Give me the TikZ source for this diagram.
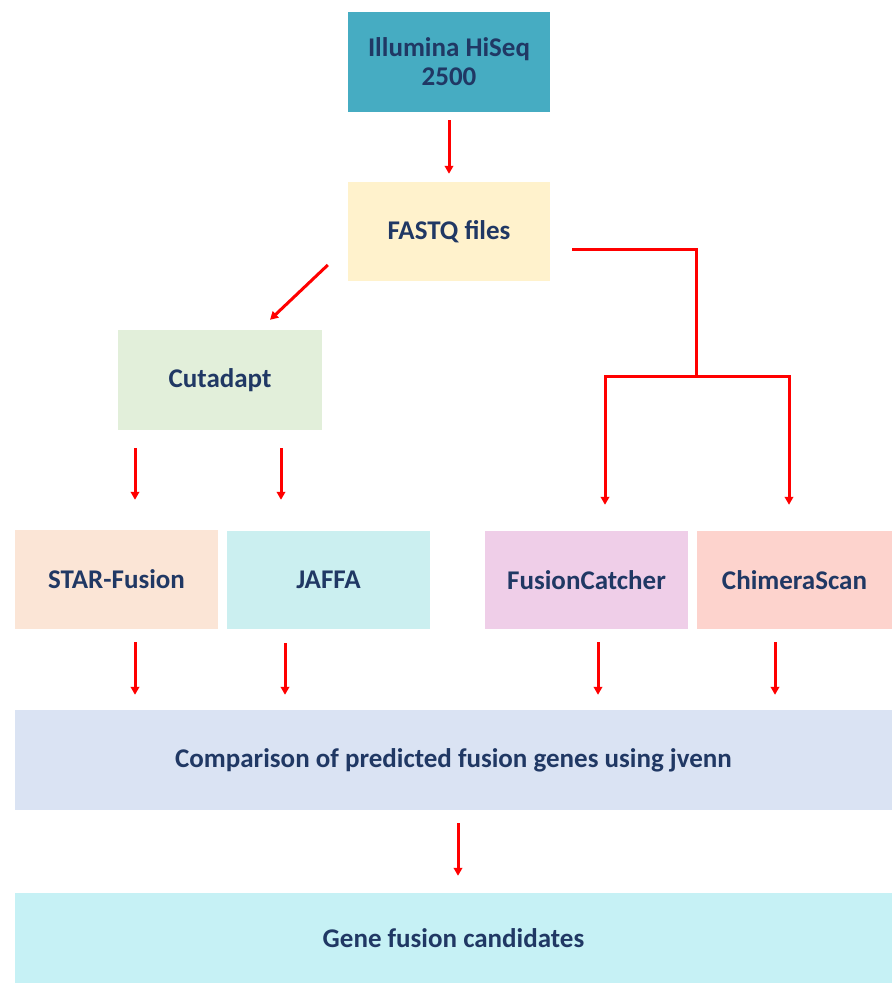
\documentclass[tikz,border=0pt]{standalone}
\usepackage{fontspec}
\setmainfont{Carlito}
\usepackage{xcolor}
\usepackage{tikz}
\usetikzlibrary{arrows.meta, positioning, calc}
\definecolor{textnavy}{HTML}{203864}
\definecolor{illteal}{RGB}{70,172,194}
\definecolor{fastqyellow}{HTML}{FFF2CC}
\definecolor{cutgreen}{HTML}{E2EFDA}
\definecolor{starpeach}{HTML}{FBE5D6}
\definecolor{jaffacyan}{HTML}{CBEFF0}
\definecolor{fcpink}{HTML}{EFCEE8}
\definecolor{cssalmon}{HTML}{FDD3CD}
\definecolor{compblue}{HTML}{DAE3F3}
\definecolor{genecyan}{HTML}{C6F1F5}
\definecolor{arrowred}{HTML}{FF0000}

\begin{document}
\begin{tikzpicture}[x=1pt, y=-1pt,
    box/.style={rectangle, draw=none, inner sep=0pt, align=center,
        text=textnavy, font=\fontsize{27}{29}\selectfont\bfseries},
    line/.style={draw=arrowred, line width=3pt},
    arr/.style={line, -{Triangle[width=8.5pt,length=8pt]}}]
    \useasboundingbox (0,0) rectangle (892,983);

    % Sequencing and preprocessing
    \node[box, fill=illteal, minimum width=202pt, minimum height=100pt] (ill) at (449,62) {Illumina HiSeq\\2500};
    \node[box, fill=fastqyellow, minimum width=202pt, minimum height=99pt] (fastq) at (449,231.5) {FASTQ files};
    \node[box, fill=cutgreen, minimum width=204pt, minimum height=100pt] (cut) at (220,380) {Cutadapt};

    % Fusion callers
    \node[box, fill=starpeach, minimum width=203pt, minimum height=99pt] (star) at (116.5,579.5) {STAR-Fusion};
    \node[box, fill=jaffacyan, minimum width=203pt, minimum height=98pt] (jaffa) at (328.5,580) {JAFFA};
    \node[box, fill=fcpink, minimum width=203pt, minimum height=98pt] (fc) at (586.5,580) {FusionCatcher};
    \node[box, fill=cssalmon, minimum width=195pt, minimum height=98pt] (cs) at (794.5,580) {ChimeraScan};

    % Comparison and result
    \node[box, fill=compblue, minimum width=877pt, minimum height=100pt] (comp) at (453.5,760) {Comparison of predicted fusion genes using jvenn};
    \node[box, fill=genecyan, minimum width=877pt, minimum height=90pt] (gene) at (453.5,938) {Gene fusion candidates};

    % Arrows
    \draw[arr] ([yshift=-8pt]ill.south) -- ([yshift=8pt]fastq.north);
    \draw[arr] ([xshift=-20pt,yshift=-33.5pt]fastq.west) -- ([xshift=50pt,yshift=10pt]cut.north);
    \coordinate (split) at (696,376);
    \draw[line] ([xshift=22pt,yshift=-17.5pt]fastq.east) -| (split);
    \draw[arr] (split) -| ([xshift=18.5pt,yshift=26pt]fc.north);
    \draw[arr] (split) -| ([xshift=-5.5pt,yshift=26pt]cs.north);

    \draw[arr] ([xshift=-85pt,yshift=-18pt]cut.south) -- ([xshift=18.5pt,yshift=30pt]star.north);
    \draw[arr] ([xshift=61pt,yshift=-18pt]cut.south) -- ([xshift=-47.5pt,yshift=31pt]jaffa.north);

    \draw[arr] ([xshift=18.5pt,yshift=-13pt]star.south) -- ([xshift=-318.5pt,yshift=15pt]comp.north);
    \draw[arr] ([xshift=-43.5pt,yshift=-14pt]jaffa.south) -- ([xshift=-168.5pt,yshift=15pt]comp.north);
    \draw[arr] ([xshift=11.5pt,yshift=-13pt]fc.south) -- ([xshift=144.5pt,yshift=15pt]comp.north);
    \draw[arr] ([xshift=-19.5pt,yshift=-13pt]cs.south) -- ([xshift=321.5pt,yshift=15pt]comp.north);

    \draw[arr] ([xshift=4.5pt,yshift=-13pt]comp.south) -- ([xshift=4.5pt,yshift=17pt]gene.north);
\end{tikzpicture}
\end{document}
